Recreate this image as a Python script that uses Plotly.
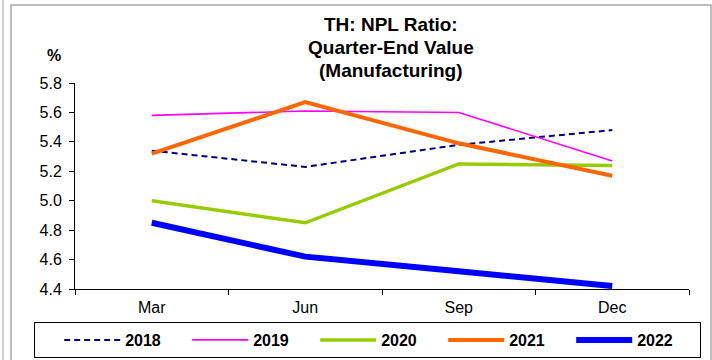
import plotly.graph_objects as go

quarters = ["Mar", "Jun", "Sep", "Dec"]
years = ["2018", "2019", "2020", "2021", "2022"]

npl_2018 = [5.34, 5.23, 5.38, 5.48]
npl_2019 = [5.58, 5.61, 5.60, 5.27]
npl_2020 = [5.00, 4.85, 5.25, 5.24]
npl_2021 = [5.32, 5.67, 5.39, 5.17]
npl_2022 = [4.85, 4.62, 4.52, 4.42]

y_ticks = [4.4, 4.6, 4.8, 5.0, 5.2, 5.4, 5.6, 5.8]

W, H = 712, 360
L, R, T, B = 75, 689, 83, 289  # plot area in pixels


def px(x):
    return (x - L) / (R - L)


def py(y):
    return (B - y) / (B - T)


styles = {
    "2018": dict(color="#000080", width=2, dash="6px,4px"),
    "2019": dict(color="#FF00FF", width=1.6, dash="solid"),
    "2020": dict(color="#99CC00", width=3.5, dash="solid"),
    "2021": dict(color="#FF6600", width=4, dash="solid"),
    "2022": dict(color="#0000FF", width=6, dash="solid"),
}
series = dict(zip(years, [npl_2018, npl_2019, npl_2020, npl_2021, npl_2022]))

fig = go.Figure()
for yr in years:
    fig.add_trace(go.Scatter(
        x=quarters, y=series[yr], name=yr, mode="lines",
        line=dict(**styles[yr]),
    ))

font = "Liberation Sans, Arial, sans-serif"

fig.update_layout(
    width=W, height=H,
    margin=dict(l=L, r=W - R, t=T, b=H - B, pad=0, autoexpand=False),
    paper_bgcolor="white", plot_bgcolor="white",
    font=dict(family=font, size=16, color="black"),
    showlegend=True,
    legend=dict(
        orientation="h", x=px(34), xanchor="left", y=py(322), yanchor="top",
        bordercolor="black", borderwidth=1, bgcolor="white",
        font=dict(family=font, size=16, color="black", weight="bold"),
        title=dict(text="&nbsp;&nbsp;&nbsp;", font=dict(size=17)),
        itemwidth=56, entrywidth=57, tracegroupgap=0,
    ),
)

fig.update_xaxes(
    type="category", range=[-0.5, 3.5], tickson="boundaries",
    ticks="outside", ticklen=5, tickcolor="black", ticklabelstandoff=4,
    showline=True, linecolor="black", linewidth=1,
    showgrid=False, zeroline=False, tickfont=dict(size=16),
)
fig.update_yaxes(
    range=[4.4, 5.8], tickvals=y_ticks, tickformat=".1f",
    ticks="outside", ticklen=5, tickcolor="black", ticklabelstandoff=4,
    showline=True, linecolor="black", linewidth=1,
    showgrid=False, zeroline=False, tickfont=dict(size=16),
)

# title lines
title_lines = ["TH: NPL Ratio:", "Quarter-End Value", "(Manufacturing)"]
for i, line in enumerate(title_lines):
    fig.add_annotation(
        text=f"<b>{line}</b>", xref="paper", yref="paper",
        x=px(391), y=py(25 + 22.5 * i), showarrow=False,
        xanchor="center", yanchor="middle",
        font=dict(family=font, size=19, color="black"),
    )

fig.add_annotation(
    text="<b>%</b>", xref="paper", yref="paper", x=px(54), y=py(55),
    showarrow=False, xanchor="center", yanchor="middle",
    font=dict(family=font, size=16, color="black"),
)

# outer frame
fig.add_shape(type="rect", xref="paper", yref="paper",
              x0=px(11), x1=px(711), y0=py(400), y1=py(5),
              line=dict(color="#A8A8A8", width=1.5), layer="below")
fig.add_shape(type="line", xref="paper", yref="paper",
              x0=px(3), x1=px(3), y0=py(400), y1=py(0),
              line=dict(color="#C0C0C0", width=1.5), layer="below")

fig.write_html(
    "out.html",
    config={"displayModeBar": False},
    post_script="document.body.style.margin='0px';",
)
